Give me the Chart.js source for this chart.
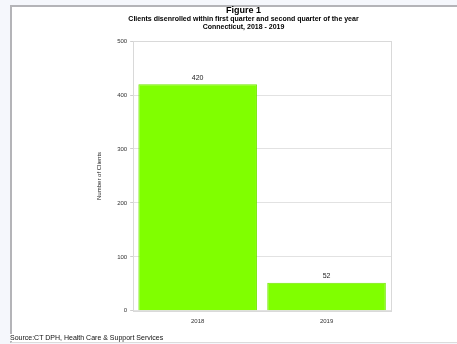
<!DOCTYPE html>
<html>
<head>
<meta charset="utf-8">
<script src="https://cdn.jsdelivr.net/npm/chart.js@4/dist/chart.umd.min.js"></script>
<style>
  html, body { margin: 0; padding: 0; }
  body { width: 457px; height: 344px; overflow: hidden; background: #f5f7fc; position: relative; font-family: "Liberation Sans", Arial, sans-serif; }
  #page { position: absolute; left: 10px; top: 5px; width: 500px; height: 338px; background: #fff;
          border-top: 2px solid #b4b4b8; border-left: 2px solid #b4b4b8; border-bottom: 1px solid #dcdcdc; box-sizing: border-box; }
  #chart { position: absolute; left: 10px; top: 5px; }
  #source { position: absolute; left: 10px; top: 334px; font-size: 7px; color: #111; white-space: nowrap; background: #fff; padding-right: 2px; }
</style>
</head>
<body>
<div id="page"></div>
<canvas id="chart" width="462" height="338"></canvas>
<div id="source">Source:CT DPH, Health Care &amp; Support Services</div>
<script>
const years = ['2018', '2019'];
const clients = [420, 52];
const yTicks = [0, 100, 200, 300, 400, 500];

const FONT = '"Liberation Sans", Arial, sans-serif';

// Thin frame around the plotting area
const frame = {
  id: 'frame',
  beforeDatasetsDraw(chart) {
    const { ctx, chartArea: a } = chart;
    ctx.save();
    ctx.strokeStyle = '#d9d9d9';
    ctx.lineWidth = 1;
    ctx.strokeRect(Math.round(a.left) + 0.5, Math.round(a.top) + 0.5,
                   Math.round(a.right - a.left), Math.round(a.bottom - a.top));
    ctx.restore();
  }
};

// Value printed above each bar
const valueLabels = {
  id: 'valueLabels',
  afterDatasetsDraw(chart) {
    const { ctx } = chart;
    const meta = chart.getDatasetMeta(0);
    ctx.save();
    ctx.font = '7px ' + FONT;
    ctx.fillStyle = '#222';
    ctx.textAlign = 'center';
    ctx.textBaseline = 'bottom';
    meta.data.forEach((bar, i) => {
      ctx.fillText(String(chart.data.datasets[0].data[i]), bar.x, bar.y - 3);
    });
    ctx.restore();
  }
};

new Chart(document.getElementById('chart'), {
  type: 'bar',
  data: {
    labels: years,
    datasets: [{
      data: clients,
      backgroundColor: '#80ff00',
      borderColor: '#74e600',
      borderWidth: 1,
      categoryPercentage: 0.92,
      barPercentage: 1
    }]
  },
  options: {
    responsive: false,
    devicePixelRatio: 1,
    animation: false,
    layout: { padding: { left: 86, right: 81, top: 0, bottom: 11 } },
    plugins: {
      legend: { display: false },
      tooltip: { enabled: false },
      title: {
        display: true,
        text: 'Figure 1',
        color: '#000',
        font: { family: FONT, size: 9, weight: 'bold', lineHeight: 1.0 },
        padding: { top: 1, bottom: 0 }
      },
      subtitle: {
        display: true,
        text: ['Clients disenrolled within first quarter and second quarter of the year', 'Connecticut, 2018 - 2019'],
        color: '#000',
        font: { family: FONT, size: 7, weight: 'bold', lineHeight: 1.15 },
        padding: { top: 0, bottom: 10 }
      }
    },
    scales: {
      x: {
        grid: { display: false, drawTicks: false },
        border: { display: false },
        ticks: { color: '#333', font: { family: FONT, size: 6 }, padding: 7 }
      },
      y: {
        min: 0,
        max: 500,
        afterBuildTicks(scale) { scale.ticks = yTicks.map(v => ({ value: v })); },
        grid: { color: '#e2e2e2', tickLength: 3, tickColor: '#cfcfcf' },
        border: { display: true, color: '#d0d0d0' },
        ticks: { color: '#333', font: { family: FONT, size: 6 }, padding: 3 },
        title: {
          display: true,
          text: 'Number of Clients',
          color: '#222',
          font: { family: FONT, size: 6 },
          padding: { top: 0, bottom: 11 }
        }
      }
    }
  },
  plugins: [frame, valueLabels]
});
</script>
</body>
</html>
